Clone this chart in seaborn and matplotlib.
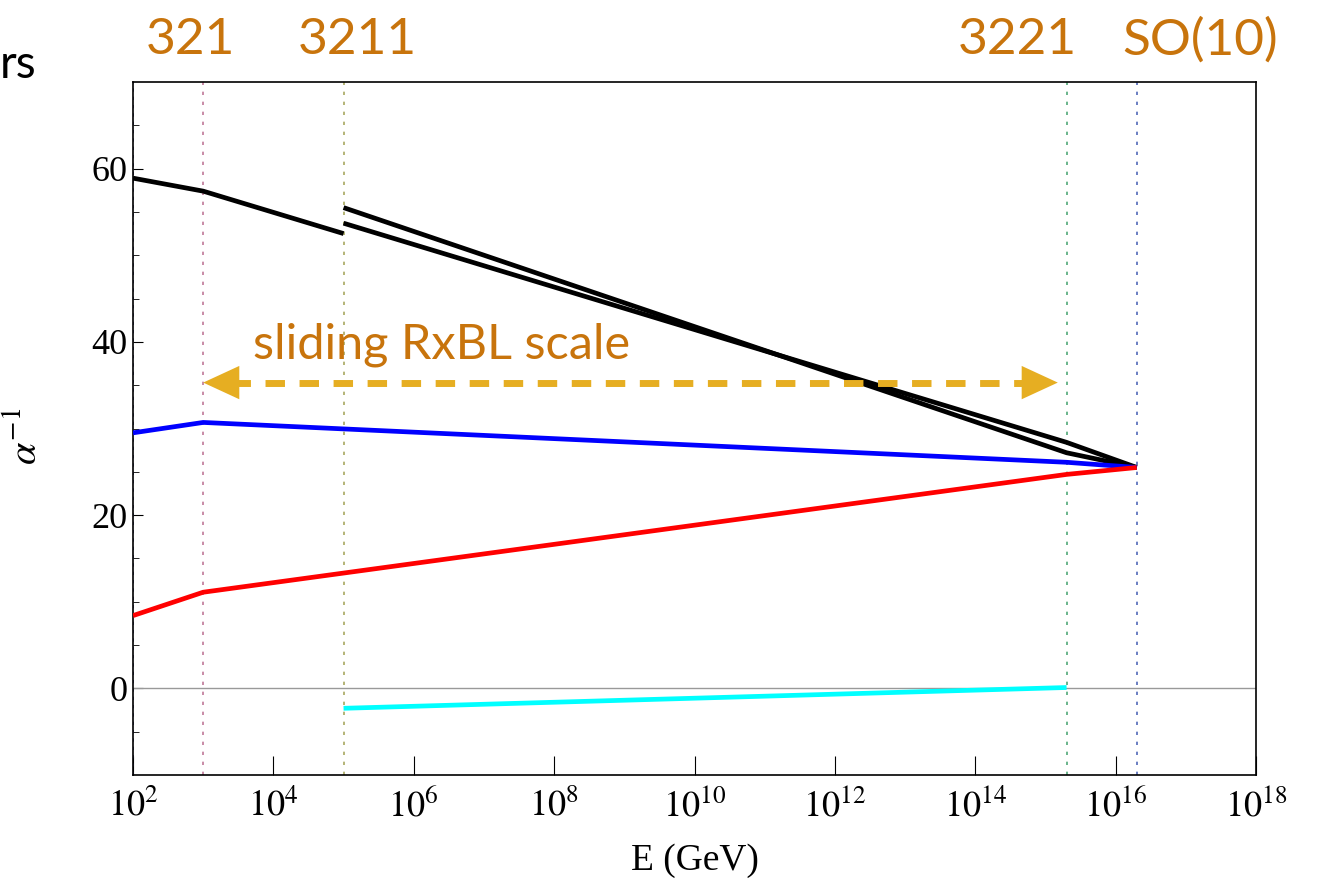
import matplotlib
matplotlib.use("Agg")
import matplotlib.pyplot as plt
import seaborn as sns
import numpy as np

# Symmetry-breaking scales (GeV)
E_321 = 1e3
E_3211 = 1e5
E_3221 = 2e15
E_SO10 = 2e16

# Inverse couplings along the running
black_low_E = [1e2, E_321, E_3211]
black_low = [58.9, 57.4, 52.5]
black_hi_E = [E_3211, E_3221, E_SO10]
black_hi_a = [55.5, 27.2, 25.5]
black_hi_b = [53.7, 28.4, 25.5]
blue_E = [1e2, E_321, E_3221, E_SO10]
blue = [29.5, 30.7, 26.1, 25.5]
red_E = [1e2, E_321, E_3221, E_SO10]
red = [8.4, 11.1, 24.7, 25.5]
cyan_E = [E_3211, E_3221]
cyan = [-2.3, 0.1]

scale_labels = ["321", "3211", "3221", "SO(10)"]
scale_label_x = [190, 357, 1017, 1200]
xtick_exps = list(range(2, 19, 2))
ytick_vals = [0, 20, 40, 60]

sns.set_theme(style="ticks")
plt.rcParams["font.family"] = ["Liberation Serif", "DejaVu Serif"]
plt.rcParams["mathtext.fontset"] = "stix"
for k in ["text.color", "axes.labelcolor", "xtick.color", "ytick.color"]:
    plt.rcParams[k] = "black"

W, H = 1318, 892
fig = plt.figure(figsize=(W / 100, H / 100), dpi=100)
ax = fig.add_axes([133 / W, 1 - 775 / H, (1256 - 133) / W, (775 - 82) / H])
ax.set_xscale("log")
ax.set_xlim(1e2, 1e18)
ax.set_ylim(-10, 70)

# vertical markers for each breaking scale
ax.axvline(1e2, color="#4a4a8a", ls=(0, (2, 3)), lw=1.2, zorder=1)
for xv, c in [(E_321, "#c07898"), (E_3211, "#a8a860"), (E_3221, "#50a878"), (E_SO10, "#5068b8")]:
    ax.axvline(xv, color=c, ls=(0, (2, 4)), lw=1.2, zorder=1)
ax.axhline(0, color="#999999", lw=1.0, zorder=1)

lw = 3.4
for xs, ys, c in [
    (black_low_E, black_low, "black"),
    (black_hi_E, black_hi_a, "black"),
    (black_hi_E, black_hi_b, "black"),
    (blue_E, blue, "#0000ff"),
    (red_E, red, "#ff0000"),
    (cyan_E, cyan, "#00ffff"),
]:
    sns.lineplot(x=xs, y=ys, color=c, lw=lw, ax=ax, sort=False, estimator=None,
                 solid_capstyle="butt", zorder=3)

# sliding RxBL double arrow
gold = "#e6ae22"
arrow_y = 35.3
arrow_left = E_321
arrow_right = 1.5e15
ax.plot([10 ** 3.4, 10 ** 14.8], [arrow_y, arrow_y], color=gold, lw=5,
        ls=(0, (2.8, 2.1)), solid_capstyle="butt", zorder=4)
for tip, tail in [(arrow_left, 10 ** 3.9), (arrow_right, 10 ** 14.3)]:
    ax.annotate("", xy=(tip, arrow_y), xytext=(tail, arrow_y),
                arrowprops=dict(arrowstyle="-|>,head_length=26,head_width=12",
                                mutation_scale=1, color=gold, lw=0,
                                shrinkA=0, shrinkB=0), zorder=4)

orange = "#c8740c"
fig.text(253 / W, 1 - 345 / H, "sliding RxBL scale", color=orange, fontsize=35,
         family=["Lato", "DejaVu Sans"], ha="left", va="center")
for lab, xp in zip(scale_labels, scale_label_x):
    fig.text(xp / W, 1 - 40 / H, lab, color=orange, fontsize=37,
             family=["Lato", "DejaVu Sans"], ha="center", va="center")
fig.text(0 / W, 1 - 65 / H, "rs", color="black", fontsize=33,
         family=["Lato", "DejaVu Sans"], ha="left", va="center")

ax.set_xticks([10.0 ** e for e in xtick_exps])
ax.set_xticklabels([rf"$10^{{{e}}}$" for e in xtick_exps])
ax.xaxis.set_minor_locator(matplotlib.ticker.NullLocator())
ax.set_yticks(ytick_vals)
ax.set_yticks(np.arange(-5, 70, 5), minor=True)
ax.tick_params(axis="x", which="major", direction="in", length=14, width=0.8,
               labelsize=26, pad=10, top=False)
ax.tick_params(axis="y", which="major", direction="in", length=7, width=0.8,
               labelsize=26, pad=4, right=False)
ax.tick_params(axis="y", which="minor", direction="in", length=4, width=0.6, right=False)
for s in ax.spines.values():
    s.set_color("black")
    s.set_linewidth(1.2)

ax.set_xlabel("E (GeV)", fontsize=27, labelpad=14)
ax.set_ylabel(r"$\alpha^{-1}$", fontsize=29)
ax.yaxis.set_label_coords(-0.078, 0.488)

fig.savefig("out.png", dpi=100)
